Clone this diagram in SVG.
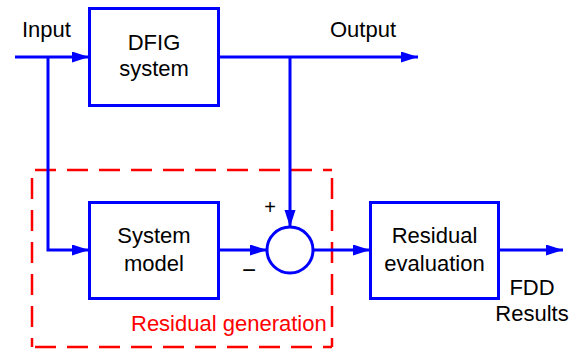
<svg xmlns="http://www.w3.org/2000/svg" width="581" height="353" viewBox="0 0 581 353">
<defs>
<marker id="arr" markerUnits="userSpaceOnUse" markerWidth="18" markerHeight="12" refX="17" refY="5.5" orient="auto">
<path d="M0,0 L17,5.5 L0,11 z" fill="#0000FF"/>
</marker>
<style>
.box{fill:#fff;stroke:#0000FF;stroke-width:3}
.ln{fill:none;stroke:#0000FF;stroke-width:3}
.t{font-family:"Liberation Sans",Arial,sans-serif;font-size:22px;fill:#000}
.c{text-anchor:middle}
.dash{fill:none;stroke:#FF0000;stroke-width:2.5;stroke-dasharray:21 11}
</style>
</defs>
<rect width="581" height="353" fill="#fff"/>
<g id="region">
<line class="dash" x1="35" y1="170" x2="332" y2="170"/>
<line class="dash" x1="32" y1="178" x2="32" y2="347"/>
<line class="dash" x1="332" y1="178" x2="332" y2="347"/>
<line class="dash" x1="35" y1="347" x2="332" y2="347"/>
<text class="t" x="131" y="331" style="fill:#FF0000">Residual generation</text>
</g>
<g id="connectors">
<line class="ln" x1="15" y1="57" x2="89" y2="57" marker-end="url(#arr)"/>
<polyline class="ln" points="48,57 48,250 89,250" marker-end="url(#arr)"/>
<line class="ln" x1="219" y1="57" x2="418" y2="57" marker-end="url(#arr)"/>
<line class="ln" x1="290" y1="57" x2="290" y2="227" marker-end="url(#arr)"/>
<line class="ln" x1="218" y1="250" x2="267" y2="250" marker-end="url(#arr)"/>
<line class="ln" x1="313" y1="250" x2="370" y2="250" marker-end="url(#arr)"/>
<line class="ln" x1="499" y1="250" x2="563" y2="250" marker-end="url(#arr)"/>
</g>
<g id="dfig">
<rect class="box" x="89.5" y="8.5" width="129" height="97"/>
<text class="t c" x="154" y="50">DFIG</text>
<text class="t c" x="154" y="76">system</text>
</g>
<g id="model">
<rect class="box" x="89.5" y="202.5" width="129" height="96"/>
<text class="t c" x="154" y="243">System</text>
<text class="t c" x="154" y="271">model</text>
</g>
<g id="sum">
<circle cx="290" cy="250" r="23" fill="#fff" stroke="#0000FF" stroke-width="3"/>
<text class="t c" x="270" y="214" style="font-size:20px">+</text>
<text class="t" x="242" y="278" style="font-size:24px">−</text>
</g>
<g id="evaluation">
<rect class="box" x="370.5" y="202.5" width="128" height="96"/>
<text class="t c" x="434.5" y="243">Residual</text>
<text class="t c" x="434.5" y="271">evaluation</text>
</g>
<g id="labels">
<text class="t" x="22" y="37">Input</text>
<text class="t" x="330" y="37">Output</text>
<text class="t c" x="532" y="295">FDD</text>
<text class="t c" x="532" y="321">Results</text>
</g>
</svg>
